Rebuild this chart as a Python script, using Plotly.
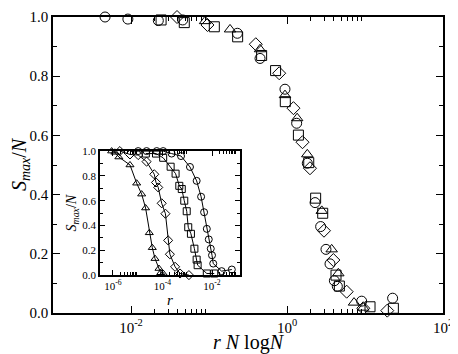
import plotly.graph_objects as go

# main panel: S_max/N against r N logN, four system sizes
circ_x = [0.00465, 0.00912, 0.0224, 0.0460, 0.231, 0.451, 0.942, 1.33, 1.82, 2.29,
          2.70, 3.16, 3.56, 4.05, 4.42, 9.06, 22.6]
circ_y = [1.0, 0.993, 0.988, 0.99, 0.945, 0.86, 0.756, 0.641, 0.506, 0.373,
          0.292, 0.215, 0.166, 0.109, 0.09, 0.04, 0.05]
sq_x = [0.0243, 0.0482, 0.117, 0.233, 0.473, 0.714, 0.951, 1.40, 1.90, 2.33,
        2.87, 4.25, 4.69, 11.6, 23.1]
sq_y = [0.99, 0.981, 0.967, 0.933, 0.87, 0.819, 0.714, 0.601, 0.508, 0.388,
        0.337, 0.128, 0.091, 0.021, 0.016]
dia_x = [0.0389, 0.0955, 0.398, 0.794, 1.21, 1.58, 1.97, 2.98, 3.93, 5.82, 9.51, 19.3]
dia_y = [1.0, 0.973, 0.908, 0.81, 0.692, 0.577, 0.489, 0.278, 0.179, 0.072, 0.016, 0.008]
tri_x = [0.0891, 0.186, 0.451, 0.942, 1.35, 1.82, 2.79, 3.74, 4.55, 7.23, 9.51]
tri_y = [0.986, 0.958, 0.891, 0.736, 0.658, 0.536, 0.345, 0.215, 0.134, 0.035, 0.018]

# inset: S_max/N against r
in_tri_x = [8.91e-7, 1.20e-6, 1.74e-6, 4.90e-6, 9.12e-6, 1.45e-5, 2.09e-5, 2.95e-5,
            3.89e-5, 5.01e-5, 7.24e-5, 8.51e-5, 1.07e-4]
in_tri_y = [1.0, 0.99, 0.952, 0.888, 0.741, 0.653, 0.541, 0.341, 0.221, 0.133, 0.053, 0.019, 0.013]
in_dia_x = [1.91e-6, 4.90e-6, 1.05e-5, 2.29e-5, 4.68e-5, 5.50e-5, 6.76e-5, 9.33e-5,
            1.32e-4, 1.70e-4, 2.00e-4, 3.24e-4, 5.13e-4, 1.17e-3]
in_dia_y = [1.0, 0.973, 0.968, 0.915, 0.813, 0.747, 0.707, 0.579, 0.495, 0.28, 0.168,
            0.067, 0.013, 0.0]
in_sq_x = [2.14e-5, 5.50e-5, 1.07e-4, 2.14e-4, 3.39e-4, 4.79e-4, 6.03e-4, 7.59e-4,
           9.55e-4, 1.10e-3, 1.41e-3, 1.95e-3, 2.40e-3, 2.63e-3, 6.17e-3, 1.23e-2]
in_sq_y = [0.98, 0.98, 0.946, 0.874, 0.818, 0.72, 0.694, 0.6, 0.515, 0.386, 0.333,
           0.213, 0.125, 0.08, 0.013, 0.013]
in_circ_x = [1.05e-5, 2.29e-5, 5.89e-5, 1.07e-4, 2.34e-4, 5.62e-4, 1.29e-3, 2.40e-3,
             3.63e-3, 4.79e-3, 6.17e-3, 7.41e-3, 8.91e-3, 1.0e-2, 1.12e-2, 2.45e-2, 6.31e-2]
in_circ_y = [1.0, 1.0, 1.0, 1.0, 0.98, 0.96, 0.872, 0.76, 0.632, 0.507, 0.373, 0.288,
             0.213, 0.16, 0.093, 0.032, 0.045]

main_ticks = [1e-2, 1, 1e2]
main_ticktext = ["10<sup>-2</sup>", "10<sup>0</sup>", "10<sup>2</sup>"]
inset_ticks = [1e-6, 1e-4, 1e-2]
inset_ticktext = ["10<sup>-6</sup>", "10<sup>-4</sup>", "10<sup>-2</sup>"]

FONT = "Liberation Serif"


def minor_vals(decades):
    return [k * d for d in decades for k in range(2, 10)]


fig = go.Figure()

for x, y, sym in [(circ_x, circ_y, "circle-open"), (sq_x, sq_y, "square-open"),
                  (dia_x, dia_y, "diamond-open"), (tri_x, tri_y, "triangle-up-open")]:
    fig.add_trace(go.Scatter(x=x, y=y, mode="markers", cliponaxis=False,
                             marker=dict(symbol=sym, size=10, color="black",
                                         line=dict(width=1)),
                             xaxis="x", yaxis="y", showlegend=False))

for x, y, sym in [(in_tri_x, in_tri_y, "triangle-up-open"), (in_dia_x, in_dia_y, "diamond-open"),
                  (in_sq_x, in_sq_y, "square-open"), (in_circ_x, in_circ_y, "circle-open")]:
    fig.add_trace(go.Scatter(x=x, y=y, mode="lines+markers", cliponaxis=False,
                             line=dict(color="black", width=1),
                             marker=dict(symbol=sym, size=7, color="black",
                                         line=dict(width=1)),
                             xaxis="x2", yaxis="y2", showlegend=False))

axis_common = dict(showline=True, linecolor="black", linewidth=1.5, mirror="allticks",
                   ticks="inside", tickcolor="black", showgrid=False, zeroline=False,
                   automargin=False)

# the page body adds an 8px margin, so the figure is 8px smaller than the window
fig.update_layout(
    width=450, height=346,
    margin=dict(l=45, r=15, t=9, b=41),
    paper_bgcolor="white", plot_bgcolor="white",
    font=dict(family=FONT, color="black"),
    xaxis=dict(type="log", range=[-3, 2], tickmode="array", tickvals=main_ticks,
               ticktext=main_ticktext, ticklen=7, tickwidth=1,
               tickfont=dict(size=15, family=FONT),
               minor=dict(tickmode="array", tickvals=minor_vals([1e-2, 1]),
                          ticks="inside", ticklen=4, tickcolor="black"),
               title=dict(text="<i>r N</i> log<i>N</i>", font=dict(size=20, family=FONT),
                          standoff=3),
               **axis_common),
    yaxis=dict(range=[0, 1], dtick=0.2, tickformat=".1f", ticklen=7, tickwidth=1,
               tickfont=dict(size=15, family=FONT),
               minor=dict(dtick=0.1, ticks="inside", ticklen=4, tickcolor="black"),
               title=dict(text="<i>S</i><sub><i>max</i></sub>/<i>N</i>",
                         font=dict(size=20, family=FONT), standoff=4),
               **axis_common),
    xaxis2=dict(type="log", range=[-6.52, -0.87], domain=[0.1205, 0.4795], anchor="y2",
                tickmode="array", tickvals=inset_ticks, ticktext=inset_ticktext,
                ticklen=5, tickwidth=1, tickfont=dict(size=11, family=FONT),
                minor=dict(tickmode="array", tickvals=minor_vals([1e-6, 1e-4, 1e-2]),
                           ticks="inside", ticklen=3, tickcolor="black"),
                title=dict(text="<i>r</i>", font=dict(size=15, family=FONT), standoff=0),
                **axis_common),
    yaxis2=dict(range=[0, 1], dtick=0.2, tickformat=".1f", domain=[0.128, 0.547],
                anchor="x2", ticklen=5, tickwidth=1, tickfont=dict(size=11, family=FONT),
                minor=dict(dtick=0.1, ticks="inside", ticklen=3, tickcolor="black"),
                title=dict(text="<i>S</i><sub><i>max</i></sub>/<i>N</i>",
                          font=dict(size=14, family=FONT), standoff=2),
                **axis_common),
)

fig.write_html("out.html")
